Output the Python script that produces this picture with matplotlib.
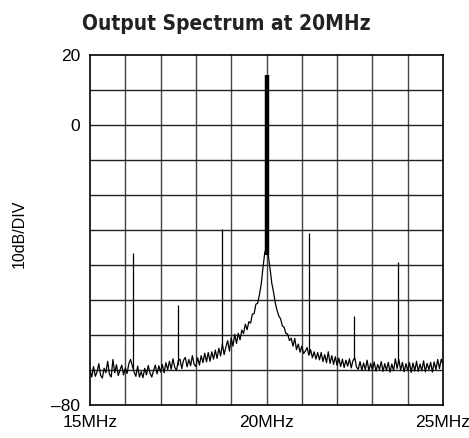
import matplotlib
matplotlib.use("Agg")
import matplotlib.pyplot as plt
import numpy as np

# spectrum trace, 0.05MHz steps from 15MHz to 25MHz (dB)
level = [
    -70.0, -72.0, -69.0, -71.8, -70.5, -68.2, -71.5, -72.3, -69.5, -70.8,   # 15.00
    -67.5, -71.2, -72.0, -67.0, -70.8, -68.5, -71.6, -70.0, -68.6, -71.4,   # 15.50
    -69.4, -71.0, -68.2, -67.0, -68.8, -70.6, -71.8, -68.9, -72.0, -70.5,   # 16.00
    -72.2, -69.5, -71.4, -68.7, -70.9, -72.0, -70.2, -68.6, -71.1, -68.8,   # 16.50
    -70.6, -68.4, -70.8, -67.9, -69.9, -67.5, -69.8, -66.8, -69.2, -70.1,   # 17.00
    -67.4, -66.9, -69.6, -67.2, -66.4, -69.1, -67.0, -68.8, -65.9, -68.4,   # 17.50
    -69.0, -66.5, -68.6, -65.9, -67.9, -65.2, -67.7, -65.0, -67.5, -64.8,   # 18.00
    -66.9, -64.3, -66.7, -63.8, -66.0, -62.5, -65.6, -63.4, -61.6, -64.6,   # 18.50
    -60.8, -63.2, -59.8, -62.4, -59.5, -61.4, -58.6, -59.6, -56.9, -58.5,   # 19.00
    -56.2, -56.6, -54.0, -53.9, -51.2, -50.9, -48.5, -45.5, -40.8, -36.5,   # 19.50
    -35.0, -37.2, -41.0, -45.2, -47.8, -50.9, -53.0, -54.6, -55.4, -57.4,   # 20.00
    -57.8, -59.6, -59.7, -61.6, -60.9, -63.2, -61.0, -64.2, -62.6, -64.9,   # 20.50
    -63.2, -65.3, -64.6, -63.6, -65.8, -64.2, -66.5, -64.8, -66.9, -65.0,   # 21.00
    -67.1, -65.0, -67.6, -65.6, -67.9, -64.8, -68.1, -65.9, -68.4, -66.2,   # 21.50
    -68.7, -66.6, -69.0, -66.9, -69.3, -67.2, -68.9, -66.8, -69.4, -67.3,   # 22.00
    -66.5, -69.2, -69.8, -67.6, -70.1, -68.0, -69.9, -67.2, -70.2, -68.1,   # 22.50
    -70.0, -67.7, -70.3, -68.4, -69.9, -67.6, -70.4, -68.2, -70.1, -67.8,   # 23.00
    -70.6, -68.3, -70.2, -66.8, -69.6, -67.0, -70.1, -67.8, -70.5, -68.2,   # 23.50
    -70.1, -67.9, -70.7, -68.0, -70.3, -67.5, -70.4, -68.3, -70.2, -67.4,   # 24.00
    -70.5, -68.1, -69.9, -67.8, -70.6, -67.7, -69.9, -67.0, -69.6, -66.9,   # 24.50
    -68.3,                                                                  # 25.00
]
freq = np.linspace(15, 25, len(level))

# carrier
carrier_freq = 20.0
carrier_level = 14.3

# spurious tones
spur_freq = [16.23, 17.48, 18.75, 21.21, 22.49, 23.73]
spur_level = [-36.7, -51.4, -29.7, -30.9, -54.6, -39.0]

yticks = [20, 0, -80]
ytick_labels = ["20", "0", "\u201380"]
xticks = [15, 20, 25]
xtick_labels = ["15MHz", "20MHz", "25MHz"]

plt.rcParams['font.family'] = ['Liberation Sans', 'DejaVu Sans']

fig = plt.figure(figsize=(4.69, 4.38), dpi=100)
ax = fig.add_axes([90/469, 1-405/438, 353/469, 350/438])

ax.set_xlim(15, 25)
ax.set_ylim(-80, 20)

# 10 x 10 graticule
for x in np.arange(16, 25, 1):
    ax.axvline(x, color='#444444', lw=1.0, zorder=1)
for y in np.arange(-70, 20, 10):
    ax.axhline(y, color='#222222', lw=1.0, zorder=1)

ax.plot(freq, level, color='black', lw=0.9, zorder=3)
ax.vlines(carrier_freq, -37, carrier_level, color='black', lw=3.2, zorder=4)
base = np.interp(spur_freq, freq, level)
ax.vlines(spur_freq, base, spur_level, color='black', lw=0.9, zorder=3)

ax.set_xticks(xticks)
ax.set_xticklabels(xtick_labels)
ax.set_yticks(yticks)
ax.set_yticklabels(ytick_labels)
ax.tick_params(length=0, labelsize=12.5, pad=7)
for s in ax.spines.values():
    s.set_linewidth(1.2)
    s.set_color('black')

fig.text(19/469, 1-234/438, "10dB/DIV", rotation=90, ha='center', va='center',
         fontsize=11.5)
fig.text(226/469, 1-30/438, "Output Spectrum at 20MHz", ha='center', va='baseline',
         fontsize=15, fontweight='bold', stretch='condensed', color='#222222',
         family=['DejaVu Sans'])

fig.savefig("out.png", dpi=100)
